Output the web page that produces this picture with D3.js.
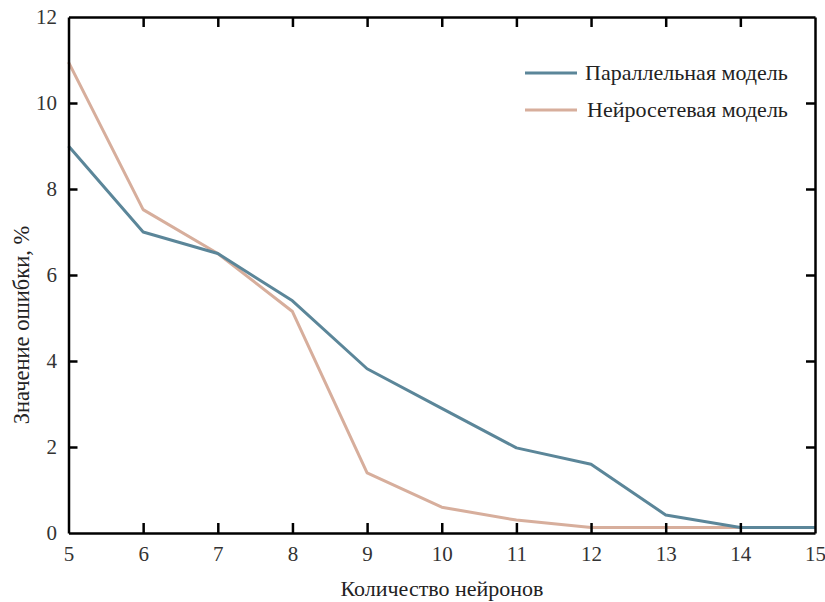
<!DOCTYPE html>
<html>
<head>
<meta charset="utf-8">
<script src="https://cdn.jsdelivr.net/npm/d3@7"></script>
<style>
  body { margin: 0; background: #fff; }
</style>
</head>
<body>
<div id="chart"></div>
<script>
// data
var neurons = [5, 6, 7, 8, 9, 10, 11, 12, 13, 14, 15];
var parallelModel = [9.0, 7.0, 6.5, 5.4, 3.82, 2.9, 1.98, 1.6, 0.42, 0.13, 0.13];
var neuralModel = [10.95, 7.52, 6.5, 5.15, 1.4, 0.6, 0.3, 0.13, 0.13, 0.13, 0.13];
var yTicks = [0, 2, 4, 6, 8, 10, 12];
var seriesNames = ["Параллельная модель", "Нейросетевая модель"];
var colors = ["#5b8699", "#d7ae9c"];

var FONT = "Liberation Serif";
var width = 825, height = 602;
var margin = {top: 17, right: 10, bottom: 69, left: 68.5};

var svg = d3.select("#chart").append("svg")
  .attr("width", width)
  .attr("height", height);

var x = d3.scaleLinear().domain([5, 15]).range([margin.left, width - margin.right]);
var y = d3.scaleLinear().domain([0, 12]).range([height - margin.bottom, margin.top]);

// lines
var line = d3.line()
  .x(function(d, i) { return x(neurons[i]); })
  .y(function(d) { return y(d); });

[neuralModel, parallelModel].forEach(function(s, k) {
  svg.append("path")
    .datum(s)
    .attr("fill", "none")
    .attr("stroke", k === 0 ? colors[1] : colors[0])
    .attr("stroke-width", 3)
    .attr("stroke-linejoin", "round")
    .attr("d", line);
});

// axes with inward ticks
var xBottom = svg.append("g")
  .attr("transform", "translate(0," + y(0) + ")")
  .call(d3.axisBottom(x).tickValues(neurons).tickSizeInner(-10).tickSizeOuter(0).tickPadding(13));
var xTop = svg.append("g")
  .attr("transform", "translate(0," + y(12) + ")")
  .call(d3.axisTop(x).tickValues(neurons).tickSizeInner(-10).tickSizeOuter(0).tickFormat(""));
var yLeft = svg.append("g")
  .attr("transform", "translate(" + x(5) + ",0)")
  .call(d3.axisLeft(y).tickValues(yTicks).tickSizeInner(-9).tickSizeOuter(0).tickPadding(11.5));
var yRight = svg.append("g")
  .attr("transform", "translate(" + x(15) + ",0)")
  .call(d3.axisRight(y).tickValues(yTicks).tickSizeInner(-9).tickSizeOuter(0).tickFormat(""));

[xBottom, xTop, yLeft, yRight].forEach(function(g) {
  g.select(".domain").attr("stroke", "#000").attr("stroke-width", 2.5);
  g.selectAll(".tick line").attr("stroke", "#000").attr("stroke-width", 2.5);
  g.selectAll(".tick text")
    .style("font-family", FONT)
    .style("font-size", "21px")
    .attr("fill", "#333");
});
// no inner tick lines at the ends of the frame
xBottom.selectAll(".tick").filter(function(d) { return d === 5 || d === 15; }).select("line").remove();
xTop.selectAll(".tick").filter(function(d) { return d === 5 || d === 15; }).select("line").remove();
yLeft.selectAll(".tick").filter(function(d) { return d === 0 || d === 12; }).select("line").remove();
yRight.selectAll(".tick").filter(function(d) { return d === 0 || d === 12; }).select("line").remove();

// axis titles
svg.append("text")
  .attr("x", 442)
  .attr("y", 596)
  .attr("text-anchor", "middle")
  .style("font-family", FONT)
  .style("font-size", "22px")
  .attr("fill", "#222")
  .text("Количество нейронов");

svg.append("text")
  .attr("transform", "translate(29,325) rotate(-90)")
  .attr("text-anchor", "middle")
  .style("font-family", FONT)
  .style("font-size", "22.5px")
  .attr("fill", "#222")
  .text("Значение ошибки, %");

// legend
var legend = svg.append("g");
seriesNames.forEach(function(name, i) {
  var ly = 73 + i * 37;
  legend.append("line")
    .attr("x1", 525).attr("x2", 577)
    .attr("y1", ly).attr("y2", ly)
    .attr("stroke", colors[i])
    .attr("stroke-width", 3);
  legend.append("text")
    .attr("x", 585 + i * 2)
    .attr("y", ly + 7)
    .style("font-family", FONT)
    .style("font-size", "22px")
    .attr("fill", "#222")
    .text(name);
});
</script>
</body>
</html>
